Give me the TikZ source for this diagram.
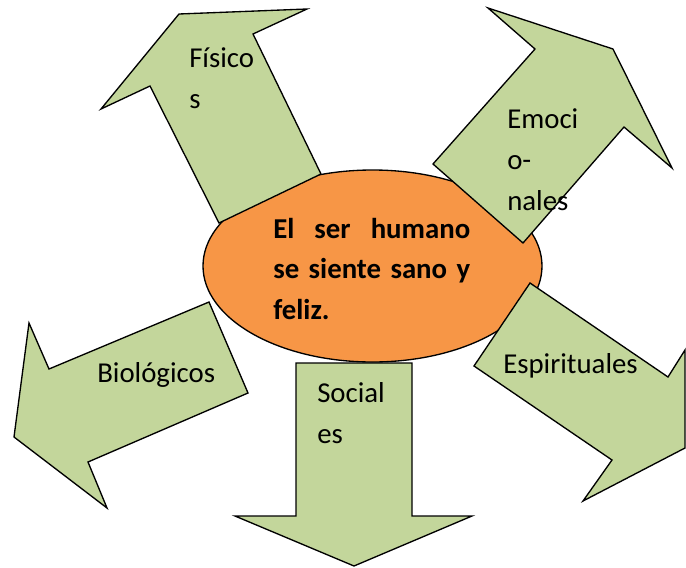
\documentclass[tikz,border=0pt]{standalone}
\usepackage{fontspec}
\setmainfont{Carlito}
\usepackage{xcolor}
\usepackage{tikz}
\usetikzlibrary{shapes.geometric}

\definecolor{leafgreen}{RGB}{195,214,155}
\definecolor{coreorange}{RGB}{247,150,70}

\begin{document}
\begin{tikzpicture}[x=0.75pt, y=-0.75pt,
    blockarrow/.style={draw=black, line width=1pt, fill=leafgreen, line join=miter},
    lbl/.style={anchor=base west, inner sep=0pt, font=\fontsize{21.6}{30.75}\selectfont}]
    \useasboundingbox (0,0) rectangle (686,568);

    \node[draw, ellipse, line width=1pt, fill=coreorange, inner sep=0pt,
        minimum width=254.25pt, minimum height=144pt] (core) at (372.5,266) {};

    % the five block arrows
    \draw[blockarrow] (219,223) -- (150,86) -- (101,109) -- (179,14) -- (307,9) -- (253,34) -- (321,174) -- cycle;
    \draw[blockarrow] (433,164) -- (535,49) -- (488,8) -- (613,49) -- (672,168) -- (624,127) -- (523,243) -- cycle;
    \draw[blockarrow] (209,302) -- (49,369) -- (29,323) -- (14,437) -- (107,508) -- (88,462) -- (248,393) -- cycle;
    \draw[blockarrow] (296,363) -- (412,363) -- (412,516) -- (472,516) -- (354,566) -- (235,516) -- (296,516) -- cycle;
    \draw[blockarrow] (530,283) -- (668,377) -- (685,350) -- (685,448) -- (583,501) -- (612,460) -- (474,366) -- cycle;

    \node[lbl, font=\bfseries\fontsize{21.6}{30.4}\selectfont] (coretext) at (273,238)
        {\begin{tabular}[t]{@{}l@{}}\makebox[147.75pt][s]{El ser humano}\\ \makebox[147.75pt][s]{se siente sano y}\\ feliz.\end{tabular}};

    \node[lbl] (fisicos) at (189,67) {\begin{tabular}[t]{@{}l@{}}Físico\\ s\end{tabular}};
    \node[lbl] (emocionales) at (507,128) {\begin{tabular}[t]{@{}l@{}}Emoci\\ o-\\ nales\end{tabular}};
    \node[lbl] (biologicos) at (97,382) {Biológicos};
    \node[lbl] (sociales) at (317,402) {\begin{tabular}[t]{@{}l@{}}Social\\ es\end{tabular}};
    \node[lbl] (espirituales) at (503,373) {Espirituales};
\end{tikzpicture}
\end{document}
